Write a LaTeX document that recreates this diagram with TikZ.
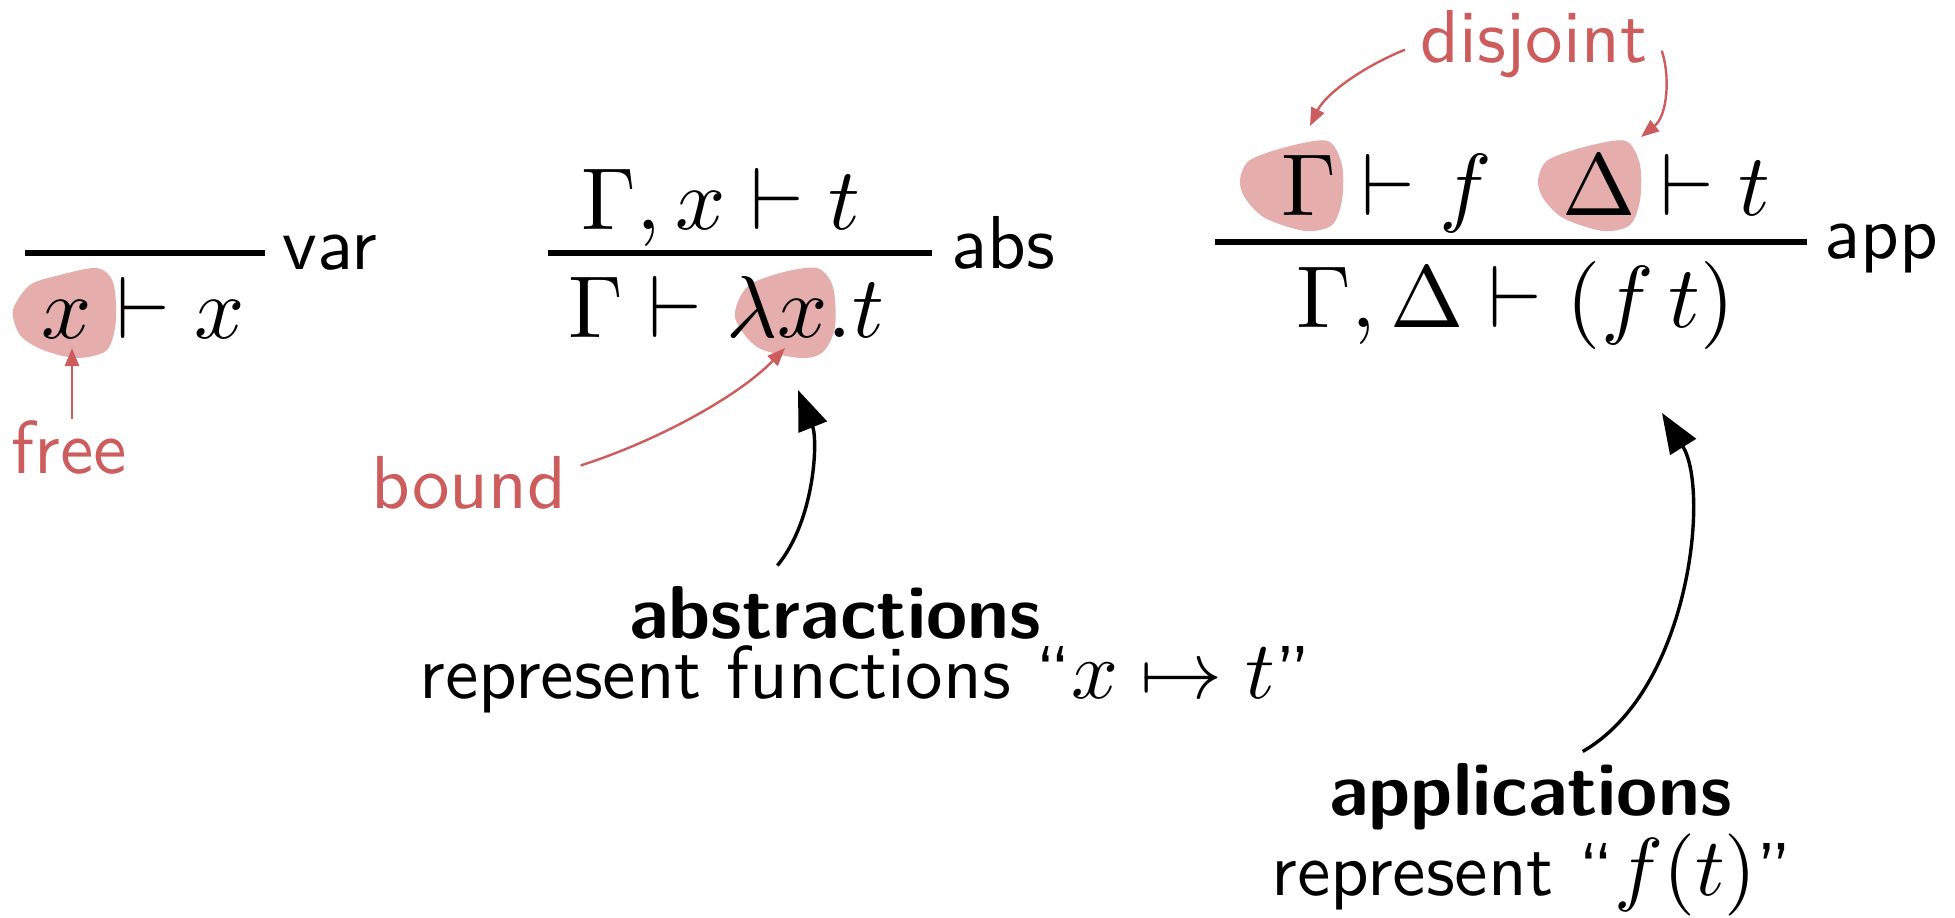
\documentclass[tikz,border=0pt]{standalone}
\usetikzlibrary{arrows.meta}
\definecolor{accent}{RGB}{205,92,92}
\newcommand\mathsized[1]{{\fontsize{10.95}{13}\selectfont$#1$}}
\tikzset{
  txt/.style={inner sep=0pt, anchor=base west, scale=3.75, font=\fontsize{10}{12}\selectfont\sffamily},
  redtxt/.style={txt, text=accent},
  boldtxt/.style={txt, font=\fontsize{10}{12}\selectfont\sffamily\bfseries},
  mth/.style={inner sep=0pt, anchor=base west, scale=4.4, font=\fontsize{10}{12}\selectfont},
  rulebar/.style={line width=3.3pt},
  blob/.style={fill=accent!50, draw=none},
  redarrow/.style={draw=accent, line width=1.2pt, -{Triangle[length=9pt,width=7pt]}},
  blackarrow/.style={draw=black, line width=1.7pt, -{Triangle[length=20pt,width=15pt]}},
}
\begin{document}
\begin{tikzpicture}[x=0.5pt, y=-0.5pt]
\path[use as bounding box, fill=white] (0,0) rectangle (1955,917);

% blobs
\path[blob] plot[smooth cycle] coordinates {(13,310) (30,285) (60,275) (97,268) (113,282) (116,320) (107,350) (77,358) (43,350) (20,335)};
\path[blob] plot[smooth cycle] coordinates {(735,317) (747,287) (780,273) (817,268) (833,287) (835,327) (823,352) (800,358) (757,347)};
\path[blob] plot[smooth cycle] coordinates {(1240,180) (1250,160) (1290,146) (1328,141) (1342,165) (1342,200) (1332,225) (1305,231) (1265,218) (1245,198)};
\path[blob] plot[smooth cycle] coordinates {(1538,180) (1548,160) (1588,146) (1626,141) (1640,165) (1640,200) (1630,225) (1603,231) (1563,218) (1543,198)};

% var rule
\draw[rulebar] (25,253) -- (265,253);
\node[txt] (varl) at (281,269) {var};
\node[mth] (varc) at (40,338) {$x \vdash x$};
\node[redtxt] (free) at (10,473) {free};
\coordinate (freetip) at (72,348);

% abs rule
\node[mth] (absp) at (580,229) {$\Gamma, x \vdash t$};
\draw[rulebar] (548,253) -- (932,253);
\node[txt] (absl) at (950,268) {abs};
\node[mth] (absc) at (567,337) {$\Gamma \vdash \lambda x.t$};
\node[redtxt] (bound) at (370,508) {bound};
\coordinate (boundtip) at (785,348);
\node[boldtxt] (abst) at (628,638) {abstractions};
\node[txt] (absd) at (418,698) {represent functions “\mathsized{x \mapsto t}”};
\coordinate (abstip) at (798,390);

% app rule
\node[mth] (appp) at (1280,215) {$\Gamma \vdash f \hspace{0.8em} \Delta \vdash t$};
\draw[rulebar] (1215,242) -- (1807,242);
\node[txt] (appl) at (1823,258) {app};
\node[mth] (appc) at (1295,327) {$\Gamma, \Delta \vdash (f\,t)$};
\node[redtxt] (dis) at (1419,62) {disjoint};
\coordinate (gtip) at (1310,126);
\coordinate (dtip) at (1641,137);
\node[boldtxt] (appt) at (1328,815) {applications};
\node[txt] (appd) at (1270,895) {represent “\mathsized{f(t)}”};
\coordinate (apptip) at (1662,413);

% connectors
\draw[redarrow] (freetip |- free.north) -- (freetip);
\draw[redarrow] ([shift={(13,11)}]bound.north east) .. controls (660,440) and (740,395) .. (boundtip);
\draw[blackarrow] ([shift={(-58,-19)}]abst.north) .. controls (815,520) and (818,440) .. (abstip);
\draw[redarrow] ([shift={(-14,6)}]dis.west) .. controls (1360,68) and (1325,95) .. (gtip);
\draw[redarrow] ([shift={(13,7)}]dis.east) .. controls (1670,75) and (1668,115) .. (dtip);
\draw[blackarrow] ([shift={(52,-10)}]appt.north) .. controls (1690,690) and (1710,490) .. (apptip);
\end{tikzpicture}
\end{document}
